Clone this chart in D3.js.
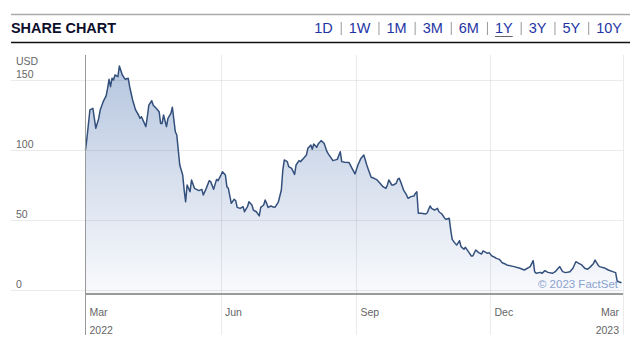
<!DOCTYPE html>
<meta charset="utf-8">
<style>
body { margin: 0; background: #fff; }
svg { font-family: "Helvetica Neue", Arial, "Liberation Sans", sans-serif; }
.grid line { stroke: #000; stroke-opacity: 0.08; }
.area { fill: url(#area-gradient); }
.price { fill: none; stroke: #33507c; stroke-width: 1.5px; stroke-linejoin: round; }
.lbl { fill: #666; font-size: 10.5px; }
</style>
<body>
<script src="https://d3js.org/d3.v7.min.js"></script>
<script>

// share price, USD
var dates = ["2022-03-01","2022-03-02","2022-03-04","2022-03-06","2022-03-07","2022-03-08","2022-03-10","2022-03-11",
  "2022-03-13","2022-03-15","2022-03-16","2022-03-17","2022-03-18","2022-03-19","2022-03-20","2022-03-21","2022-03-23",
  "2022-03-24","2022-03-26","2022-03-28","2022-03-30","2022-03-31","2022-04-02","2022-04-04","2022-04-06","2022-04-07",
  "2022-04-08","2022-04-10","2022-04-11","2022-04-12","2022-04-13","2022-04-15","2022-04-16","2022-04-18","2022-04-20",
  "2022-04-21","2022-04-22","2022-04-23","2022-04-25","2022-04-26","2022-04-28","2022-04-29","2022-05-01","2022-05-02",
  "2022-05-04","2022-05-06","2022-05-07","2022-05-08","2022-05-09","2022-05-11","2022-05-12","2022-05-14","2022-05-17",
  "2022-05-19","2022-05-20","2022-05-22","2022-05-24","2022-05-25","2022-05-27","2022-05-29","2022-05-30","2022-06-01",
  "2022-06-02","2022-06-04","2022-06-05","2022-06-06","2022-06-08","2022-06-10","2022-06-11","2022-06-12","2022-06-14",
  "2022-06-16","2022-06-17","2022-06-19","2022-06-20","2022-06-22","2022-06-23","2022-06-25","2022-06-27","2022-06-28",
  "2022-06-30","2022-07-01","2022-07-02","2022-07-03","2022-07-05","2022-07-07","2022-07-08","2022-07-10","2022-07-12",
  "2022-07-13","2022-07-14","2022-07-16","2022-07-17","2022-07-19","2022-07-21","2022-07-22","2022-07-24","2022-07-25",
  "2022-07-27","2022-07-29","2022-07-30","2022-07-31","2022-08-01","2022-08-02","2022-08-03","2022-08-05","2022-08-06",
  "2022-08-08","2022-08-10","2022-08-12","2022-08-13","2022-08-15","2022-08-16","2022-08-19","2022-08-21","2022-08-22",
  "2022-08-24","2022-08-27","2022-08-29","2022-08-31","2022-09-02","2022-09-04","2022-09-06","2022-09-08","2022-09-09",
  "2022-09-11","2022-09-13","2022-09-15","2022-09-17","2022-09-19","2022-09-21","2022-09-22","2022-09-23","2022-09-25",
  "2022-09-26","2022-09-28","2022-09-29","2022-09-30","2022-10-01","2022-10-03","2022-10-05","2022-10-06","2022-10-08",
  "2022-10-10","2022-10-11","2022-10-12","2022-10-13","2022-10-15","2022-10-18","2022-10-19","2022-10-21","2022-10-22",
  "2022-10-24","2022-10-26","2022-10-27","2022-10-29","2022-10-31","2022-11-01","2022-11-03","2022-11-04","2022-11-05",
  "2022-11-07","2022-11-08","2022-11-10","2022-11-11","2022-11-13","2022-11-14","2022-11-16","2022-11-18","2022-11-19",
  "2022-11-21","2022-11-23","2022-11-25","2022-11-26","2022-11-29","2022-11-30","2022-12-02","2022-12-04","2022-12-05",
  "2022-12-07","2022-12-09","2022-12-11","2022-12-12","2022-12-17","2022-12-21","2022-12-24","2022-12-28","2022-12-30",
  "2022-12-31","2023-01-01","2023-01-04","2023-01-05","2023-01-07","2023-01-09","2023-01-12","2023-01-14","2023-01-16",
  "2023-01-17","2023-01-19","2023-01-21","2023-01-24","2023-01-26","2023-01-28","2023-01-30","2023-02-01","2023-02-03",
  "2023-02-05","2023-02-07","2023-02-09","2023-02-10","2023-02-12","2023-02-13","2023-02-17","2023-02-19","2023-02-22",
  "2023-02-24","2023-02-25","2023-02-26","2023-02-28"];

var prices = [100,108.6,128.6,129.8,122.6,115.5,122.6,128.6,
  134.5,138.6,144,150.5,145.2,151.2,150,153.6,152.4,
  160,153.6,150.5,151.2,145.2,135.7,128.6,125,122.6,
  123.8,119,116.7,123.8,132,135.2,132,129.8,127.4,
  119,119,125,116.7,122.6,126.2,130.5,113,110.7,
  89.3,82.1,71.4,63,75,70.2,78.6,72.6,71,
  71.9,67.9,72.6,78.1,77.4,71.9,79,78.1,82.1,
  84.5,82.1,73.8,72.6,61.9,64.8,63.8,59,58.3,
  59.5,55.9,59.5,63,60.7,57.1,55.9,52.9,59,
  60.7,64.3,61.9,59,60,59,59.5,63,71.4,
  85.7,92.9,91.7,88.1,86.9,82.5,89.3,92.4,91.7,
  94,96.4,101.2,102.4,103.6,100.5,104.3,101.9,104.3,
  106.7,104.8,98.8,97.1,94,92.4,93.3,98.8,91.7,
  91.2,91,86.9,82.9,89.3,94,96.4,89.3,86.2,
  80.5,79.8,78.6,76.2,73.8,72.6,75,78.6,75,
  75,76.2,79,79.8,77.4,71.4,67.9,65.5,66.7,
  67.1,69,70.2,54.8,54.8,54.3,55,60,58.3,
  57.1,58.3,55.9,54.3,51.2,50.5,51.2,42.9,36.2,
  33.3,32.1,35.2,31,29.1,30.5,27.4,24.3,24.3,
  28.6,26.7,25.7,27.9,26.2,26.7,24.3,23.3,22.6,
  21.9,19.5,18.6,17.9,16.7,15.5,14.3,16.7,21,
  13.1,11.9,12.6,11.9,13.8,12.6,11.9,13.1,15.5,
  16.7,13.1,12.4,13.1,15.5,20.2,19,17.9,15.5,
  14.8,16.7,19,21.4,17.9,16.7,15.5,14.3,13.1,
  12.4,6.6,5.9,5.2];

var yTicks = [0, 50, 100, 150];
var monthTicks = ["2022-03-01","2022-06-01","2022-09-01","2022-12-01","2023-03-01"];
var monthLabels = ["Mar","Jun","Sep","Dec","Mar"];
var yearLabels = ["2022","","","","2023"];
var ranges = ["1D","1W","1M","3M","6M","1Y","3Y","5Y","10Y"];
var activeRange = "1Y";

var parseDate = d3.timeParse("%Y-%m-%d");
var data = dates.map(function(d, i) { return {date: parseDate(d), close: prices[i]}; });

var svg = d3.select("body").append("svg")
    .attr("width", 640)
    .attr("height", 358);

// header
svg.append("line").attr("x1", 11).attr("x2", 630).attr("y1", 14.5).attr("y2", 14.5)
    .style("stroke", "#aaa").style("stroke-width", 1.5);
svg.append("line").attr("x1", 11).attr("x2", 630).attr("y1", 42.5).attr("y2", 42.5)
    .style("stroke", "#111").style("stroke-width", 1.5);
svg.append("text")
    .attr("x", 11).attr("y", 33)
    .attr("textLength", 105).attr("lengthAdjust", "spacingAndGlyphs")
    .style("font-size", "14px").style("font-weight", "bold").style("fill", "#0c0e2b")
    .text("SHARE CHART");

// range buttons, laid out from the right
var btn = svg.append("g");
var xr = 622;
ranges.slice().reverse().forEach(function(r, i) {
  var t = btn.append("text")
      .attr("x", xr).attr("y", 33)
      .attr("text-anchor", "end")
      .style("font-size", "14.5px").style("fill", "#1e34a4")
      .text(r);
  var w = t.node().getComputedTextLength();
  if (r === activeRange) {
    btn.append("line").attr("x1", xr - w).attr("x2", xr).attr("y1", 36.5).attr("y2", 36.5)
        .style("stroke", "#666").style("stroke-width", 1);
  }
  xr = xr - w - 8;
  if (i < ranges.length - 1) {
    btn.append("line").attr("x1", xr + 0.5).attr("x2", xr + 0.5).attr("y1", 22).attr("y2", 35)
        .style("stroke", "#999").style("stroke-width", 1);
    xr = xr - 8;
  }
});

// scales
var x = d3.scaleTime()
    .domain([parseDate("2022-03-01"), parseDate("2023-03-01")])
    .range([85.5, 623]);
var y = d3.scaleLinear().domain([0, 150]).range([290, 80]);

// gradient
svg.append("linearGradient")
    .attr("id", "area-gradient")
    .attr("gradientUnits", "userSpaceOnUse")
    .attr("x1", 0).attr("y1", y(160))
    .attr("x2", 0).attr("y2", y(0))
  .selectAll("stop")
    .data([{offset: "0%", color: "#b6c6df"}, {offset: "100%", color: "#f8f9fc"}])
  .enter().append("stop")
    .attr("offset", function(d) { return d.offset; })
    .attr("stop-color", function(d) { return d.color; });

var area = d3.area()
    .x(function(d) { return x(d.date); })
    .y0(293)
    .y1(function(d) { return y(d.close); });

var line = d3.line()
    .x(function(d) { return x(d.date); })
    .y(function(d) { return y(d.close); });

svg.append("path").datum(data).attr("class", "area").attr("d", area);

// grid on top of the fill
var grid = svg.append("g").attr("class", "grid");
grid.selectAll(".h").data(yTicks).enter().append("line")
    .attr("x1", 11).attr("x2", 623)
    .attr("y1", function(d) { return y(d) + 0.5; })
    .attr("y2", function(d) { return y(d) + 0.5; });
grid.selectAll(".v").data(monthTicks.slice(1)).enter().append("line")
    .attr("x1", function(d) { return Math.round(x(parseDate(d))) + 0.5; })
    .attr("x2", function(d) { return Math.round(x(parseDate(d))) + 0.5; })
    .attr("y1", 55).attr("y2", 335);

svg.append("path").datum(data).attr("class", "price").attr("d", line);

// axes lines
svg.append("line").attr("x1", 85.5).attr("x2", 85.5).attr("y1", 55).attr("y2", 335)
    .style("stroke", "#999").style("stroke-width", 1);
svg.append("line").attr("x1", 85).attr("x2", 623).attr("y1", 294).attr("y2", 294)
    .style("stroke", "#9a9a9a").style("stroke-width", 2);

// y labels
svg.append("text").attr("class", "lbl").attr("x", 16).attr("y", 65).text("USD");
svg.selectAll(".ylbl").data(yTicks).enter().append("text")
    .attr("class", "lbl")
    .attr("x", 16)
    .attr("y", function(d) { return y(d) - 2; })
    .text(function(d) { return d; });

// x labels
monthTicks.forEach(function(d, i) {
  var last = i === monthTicks.length - 1;
  var px = x(parseDate(d)) + (last ? -4 : 4);
  svg.append("text").attr("class", "lbl")
      .attr("x", px).attr("y", 316)
      .attr("text-anchor", last ? "end" : "start")
      .text(monthLabels[i]);
  if (yearLabels[i]) {
    svg.append("text").attr("class", "lbl")
        .attr("x", px).attr("y", 334)
        .attr("text-anchor", last ? "end" : "start")
        .text(yearLabels[i]);
  }
});

// credit
svg.append("text")
    .attr("x", 618).attr("y", 288)
    .attr("text-anchor", "end")
    .style("font-size", "11.5px").style("fill", "#8aa3cf")
    .text("\u00a9 2023 FactSet");

</script>
</body>
